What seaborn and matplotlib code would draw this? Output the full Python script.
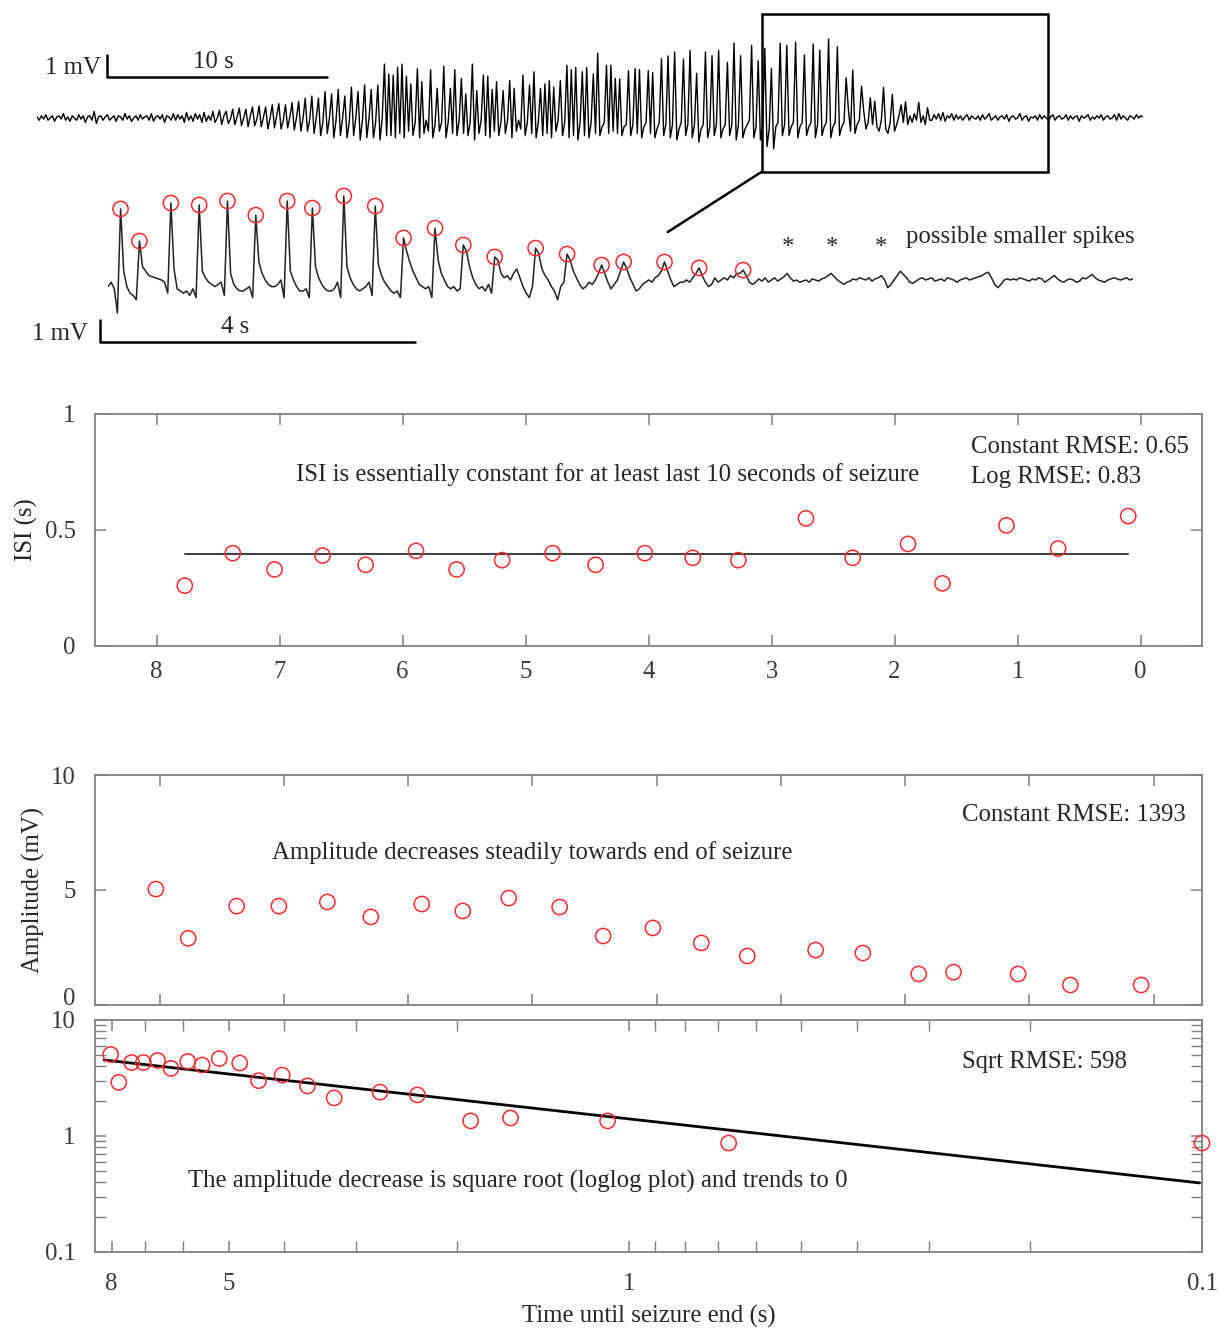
import numpy as np
import pandas as pd
import matplotlib
matplotlib.use('Agg')
import matplotlib.pyplot as plt
from matplotlib.patches import Rectangle, ConnectionPatch
from matplotlib.ticker import FixedLocator, FixedFormatter, NullFormatter
import seaborn as sns

# ---- full recording (mV), one sample every 0.1 s ----
top_dt = 0.1
top_quiet_pre = [0.05, -0.1, 0.1, -0.05, 0.15, -0.1, 0.0, 0.1, -0.15, 0.05,
                 0.1, -0.05, 0.2, -0.1, 0.05, -0.15, 0.1, 0.0, -0.1, 0.15,
                 -0.05, 0.1, -0.2, 0.05, 0.1, -0.1, 0.3, -0.25, 0.05, 0.1,
                 -0.1, 0.05, 0.15, -0.1, 0.0, 0.1, -0.15, 0.1, 0.05, -0.1,
                 0.2, -0.05, 0.1, -0.15, 0.0, 0.1, -0.1, 0.15, -0.05, 0.05,
                 0.1, -0.1, 0.2, -0.15, 0.05, 0.1, -0.05, 0.15, -0.2, 0.1,
                 0.05, -0.1, 0.2, -0.1, 0.15, -0.05, 0.1, -0.2, 0.25, -0.1,
                 0.1, -0.15, 0.2, -0.05, 0.15, -0.2, 0.25, -0.15, 0.1, -0.1]
top_onset = [0.3, -0.2, 0.0, 0.35, -0.3, 0.1, 0.3, -0.25, -0.05, 0.4,
             -0.3, 0.05, 0.45, -0.35, 0.0, 0.4, -0.4, 0.1, 0.5, -0.35,
             -0.05, 0.55, -0.4, 0.05, 0.5, -0.5, 0.0, 0.6, -0.45, 0.1,
             0.65, -0.5, -0.1, 0.6, -0.45, 0.05, 0.7, -0.55, 0.0, 0.75,
             -0.6, 0.0, 0.9, -0.6, -0.1, 1.0, -0.7, 0.0, 0.9, -0.8,
             -0.2, 1.2, -0.7, 0.0, 1.1, -0.9, -0.1, 1.3, -0.8, 0.0,
             1.0, -0.9, -0.2, 1.4, -0.8, 0.0, 1.2, -1.0, -0.1, 1.5,
             -0.9, 0.0, 1.3, -0.9, -0.2, 1.5, -1.0, 0.0, 2.45, -0.8]
top_seizure = [2.0, -0.8, 1.95, -0.9, 2.3, -0.7, 2.45, -0.9, 1.9, -0.6,
               1.55, -0.8, -0.2, 2.25, -0.9, 1.65, -0.7, -0.1, -0.6, 2.2,
               -0.9, -0.3, 1.35, -0.6, -0.2, 2.35, -0.9, -0.2, 1.35, -0.7,
               2.2, -0.8, -0.1, 1.8, -0.7, 1.1, -0.8, -0.2, 2.45, -1.0,
               1.25, -0.7, -0.1, 1.95, -0.8, 1.9, -0.9, 1.3, -0.6, 1.65,
               -0.8, -0.2, 1.25, -0.7, -0.1, 1.7, -0.9, 1.35, -0.6, -0.1,
               -0.5, 1.95, -0.8, -0.2, 1.5, -0.7, 2.1, -0.9, -0.2, 1.35,
               -0.8, 1.55, -0.7, 1.7, -0.9, 1.4, -0.6, -0.1, 1.7, -0.8,
               -0.2, 2.4, -0.9, 2.2, -0.8, 2.3, -1.0, -0.2, 2.1, -0.8,
               2.3, -0.9, -0.2, 2.0, -0.7,
               2.95, -0.8, -0.4, -0.2, 2.4, -0.7, 2.4, -0.6, 1.8, -0.7,
               1.77, -0.8, -0.4, -0.3, 2.15, -0.8, -0.3, 2.25, -0.7, 2.2,
               -0.9, -0.4, -0.2, 2.15, -0.7, 2.06, -0.9, -0.5, -0.2, 2.7,
               -0.8, -0.3, 2.82, -0.9, -0.3, 3.0, -1.0, -0.5, -0.2, 2.68,
               -0.8, -0.3, 3.07, -0.9, -0.3, 2.03, -1.1, -0.5, -0.3, 3.0,
               -0.9, -0.4, 2.83, -0.8, -0.3, 3.07, -0.9, -0.5, -0.3, 2.53,
               -0.8, -0.3, 3.4, -1.0, -0.3, 2.83, -0.9, -0.5, -0.3, -0.1,
               3.3, -0.9, -0.4, 2.6, -1.0, -0.4, 3.17, -1.3, -0.5, 2.25,
               -1.4, -0.4, -0.2, 3.4, -0.8, -0.3, 3.3, -0.8, -0.4, -0.2,
               3.45, -0.9, -0.4, -0.2, 2.86, -0.8, -0.4, -0.2, 3.36, -0.9,
               -0.3, 3.09, -0.8, -0.4, -0.2, 3.59, -0.9, -0.4, -0.2, 3.24,
               -0.8, -0.4, -0.2, 1.83, 0.4, -0.6, 2.18, -0.7, -0.3, -0.1,
               1.45, 0.3, -0.5, -0.2, 0.92, -0.3, 0.77, -0.4, -0.6, -0.1,
               1.39, -0.5, -0.7, -0.2, 1.08, -0.6, -0.3, 0.1, 0.6, -0.2,
               0.74, -0.3, 0.1, -0.2, 0.2, -0.1, 0.71, -0.2, 0.1, -0.3,
               0.47, -0.1]
top_quiet_post = [-0.1, 0.15, -0.05, 0.2, -0.1, 0.25, -0.15, 0.1, 0.0, 0.2,
                  -0.1, 0.15, -0.05, 0.1, -0.1, 0.05, 0.15, -0.1, 0.1, 0.0,
                  -0.05, 0.1, -0.1, 0.15, -0.05, 0.05, 0.2, -0.1, 0.0, 0.1,
                  -0.1, 0.05, 0.1, -0.05, 0.15, -0.15, 0.05, 0.1, -0.05, 0.0,
                  0.2, -0.1, 0.05, 0.1, -0.15, 0.05, 0.0, 0.1, -0.1, 0.15,
                  -0.05, 0.1, 0.0, -0.1, 0.05, 0.15, -0.1, 0.05, 0.1, -0.05,
                  0.0, 0.15, -0.1, 0.1, -0.05, 0.05, 0.1, -0.15, 0.1, 0.0,
                  0.05, 0.15, -0.1, 0.05, -0.05, 0.1, 0.0, 0.15, -0.1, 0.05,
                  0.1, -0.05, 0.0, 0.15, -0.1, 0.2, -0.05, 0.1, 0.0, -0.1,
                  0.1, 0.05, -0.05, 0.15, 0.0, 0.1, 0.05]

# ---- zoomed end of the seizure (mV), one sample every 0.04 s ----
zoom_dt = 0.04
zoom_start = 32.95      # s on the full recording where the zoom begins
zoom_seizure = [-0.3, -0.1, -0.4, -1.5, 3.23, 0.4, -0.3, -0.6, -0.7, -0.9,
                1.77, 0.6, 0.4, 0.2, 0.15, 0.1, 0.05, 0.0, -0.1, -0.6,
                3.5, 0.5, -0.4, -0.5, -0.6, -0.5, -0.7, -0.4, -0.8, 3.41,
                0.4, 0.1, -0.1, -0.2, -0.3, -0.2, -0.1, -0.7, 3.59, 0.3,
                -0.2, -0.4, -0.5, -0.5, -0.4, -0.3, -0.8, 2.95, 0.8, 0.3,
                0.0, -0.2, -0.3, -0.3, -0.2, 0.0, -0.8, 3.59, 0.4, 0.0,
                -0.3, -0.5, -0.5, -0.4, -0.8, 3.27, 0.6, 0.1, -0.2, -0.4,
                -0.5, -0.5, -0.4, -0.1, -0.8, 3.82, 0.6, 0.1, -0.2, -0.4,
                -0.5, -0.4, -0.3, -0.1, -0.7, 3.36, 0.7, 0.2, -0.1, -0.3,
                -0.5, -0.6, -0.5, -0.8, 1.91, 1.3, 0.8, 0.4, 0.1, -0.2,
                -0.3, -0.4, -0.3, -0.8, 2.36, 0.9, 0.3, 0.0, -0.3, -0.4,
                -0.3, -0.5, -0.4, 1.59, 1.3, 0.6, 0.1, -0.2, -0.4, -0.3,
                -0.5, -0.2, -0.6, 1.05, 0.9, 0.3, 0.1, 0.2, 0.0, 0.3,
                0.5, 0.1, -0.3, -0.6, -0.8, -0.3, 1.45, 1.2, 0.5, 0.2,
                0.0, -0.3, -0.5, -0.9, -0.3, -0.1, 1.18, 0.9, 0.4, 0.1,
                -0.2, -0.4, -0.3, -0.1, -0.2, 0.0, 0.3, 0.68, 0.3, -0.1,
                -0.4, -0.2, 0.0, 0.4, 0.82, 0.5, 0.1, -0.2, -0.5, -0.4,
                -0.2, -0.1, 0.0, -0.1, 0.1, 0.2, 0.4, 0.82, 0.4, 0.0,
                -0.3, -0.2, -0.1, -0.1, 0.0, -0.1, 0.1, 0.3, 0.55, 0.2,
                -0.1, -0.3, -0.2, 0.1, -0.1, 0.0, 0.1, 0.0, 0.2, 0.1,
                0.3, 0.3, 0.45, 0.2, -0.1, -0.2]
zoom_after = [-0.1, 0.05, -0.05, 0.1, -0.1, 0.0, 0.1, -0.05, 0.05, 0.15,
              0.3, 0.1, -0.05, 0.0, -0.1, -0.05, 0.0, -0.1, 0.05, 0.0,
              -0.05, 0.05, 0.1, 0.2, 0.3, 0.15, 0.0, -0.1, -0.2, -0.1,
              -0.05, 0.05, 0.0, 0.1, 0.05, 0.0, 0.1, -0.05, 0.05, 0.1,
              0.2, 0.0, -0.35, -0.2, 0.0, 0.2, 0.4, 0.25, 0.1, -0.1,
              -0.15, -0.05, 0.05, 0.1, 0.0, 0.05, 0.1, -0.05, 0.0, 0.05,
              -0.05, 0.1, 0.05, 0.0, -0.1, 0.0, 0.05, 0.1, 0.0, 0.05,
              0.1, 0.15, 0.2, 0.3, 0.35, 0.1, -0.2, -0.35, -0.2, 0.0,
              0.05, 0.0, 0.05, 0.0, 0.1, 0.05, 0.0, -0.05, 0.05, 0.0,
              0.1, 0.05, -0.1, 0.0, 0.1, 0.2, 0.05, -0.05, -0.1, 0.0,
              0.05, 0.0, -0.1, -0.05, 0.1, 0.05, 0.15, 0.25, 0.1, 0.0,
              -0.05, -0.1, 0.0, 0.05, 0.1, 0.05, 0.0, 0.05, 0.1, 0.0,
              0.05]
seizure_end = 8.18                    # s into the zoomed trace
possible_spikes = [8.65, 9.21, 9.83]  # s into the zoomed trace

# ---- spike measurements ----
amp_time = [8.03, 7.77, 7.38, 7.04, 6.65, 6.30, 5.89, 5.56, 5.19, 4.78, 4.43,
            4.03, 3.64, 3.27, 2.72, 2.34, 1.89, 1.61, 1.09, 0.67, 0.10]
amp_mv = [5.04, 2.90, 4.30, 4.30, 4.48, 3.83, 4.39, 4.09, 4.65, 4.26, 3.00,
          3.35, 2.70, 2.13, 2.39, 2.26, 1.35, 1.43, 1.35, 0.87, 0.87]
isi_s = [0.26, 0.40, 0.33, 0.39, 0.35, 0.41, 0.33, 0.37, 0.40, 0.35,
         0.40, 0.38, 0.37, 0.55, 0.38, 0.44, 0.27, 0.52, 0.42, 0.56]
isi_const = 0.397
fit_time = [8.24, 0.101]
fit_amp = [4.52, 0.394]

RED = '#ff2a2a'
GREY = '#808080'
FS = 17.8

sns.set_style('ticks')
plt.rcParams['font.family'] = ['Liberation Serif', 'DejaVu Serif']

W, H = 1219, 1331
fig = plt.figure(figsize=(W / 100, H / 100), dpi=100)


def px_axes(x0, y0, x1, y1):
    return fig.add_axes([x0 / W, 1 - y1 / H, (x1 - x0) / W, (y1 - y0) / H])


def style(ax, xpad=11):
    for sp in ax.spines.values():
        sp.set_color(GREY)
        sp.set_linewidth(1.3)
    ax.tick_params(which='both', direction='in', top=True, right=True,
                   colors=GREY, labelcolor='#3a3a3a', labelsize=FS)
    ax.tick_params(axis='x', which='both', pad=xpad)
    ax.tick_params(axis='y', which='both', pad=14)
    ax.tick_params(which='major', length=8, width=1.1)
    ax.tick_params(which='minor', length=5, width=1.0)


# ---------------- full trace ----------------
top_vals = top_quiet_pre + top_onset + top_seizure + top_quiet_post
top = pd.DataFrame({'t': np.arange(len(top_vals)) * top_dt, 'mv': top_vals})
ax_top = px_axes(37, 8, 1143, 228)
sns.lineplot(data=top, x='t', y='mv', ax=ax_top, color='black', lw=1.0,
             estimator=None)
ax_top.set_xlim(top['t'].iloc[0], top['t'].iloc[-1])
ax_top.set_ylim(-5, 5)
ax_top.axis('off')

zoom = pd.DataFrame({'mv': zoom_seizure + zoom_after})
zoom['t'] = np.arange(len(zoom)) * zoom_dt
zoom_len = zoom['t'].iloc[-1]

# box around the zoomed region
ax_top.add_patch(Rectangle((zoom_start, -2.45), zoom_len, 7.18, fill=False,
                           ec='black', lw=1.8, clip_on=False))
# scale bar 1 mV / 10 s
ax_top.plot([3.18, 3.18, 13.18], [2.86, 1.86, 1.86], color='black', lw=1.8,
            clip_on=False)
ax_top.text(2.9, 2.27, '1 mV', ha='right', va='center', fontsize=FS)
ax_top.text(8.0, 2.55, '10 s', ha='center', va='center', fontsize=FS)

# ---------------- zoomed trace ----------------
ax_z = px_axes(108, 159, 1133, 357)
sns.lineplot(data=zoom, x='t', y='mv', ax=ax_z, color='#222222', lw=1.1,
             estimator=None)
ax_z.set_xlim(0, zoom_len)
ax_z.set_ylim(-3.5, 5.5)
ax_z.axis('off')

# mark the detected spikes on the trace
spike_idx = []
for a in amp_time:
    i = int(np.round((seizure_end - a) / zoom_dt))
    lo, hi = max(i - 2, 0), i + 3
    spike_idx.append(lo + int(np.argmax(zoom['mv'].values[lo:hi])))
peaks = zoom.iloc[spike_idx]
sns.scatterplot(data=peaks, x='t', y='mv', ax=ax_z, marker='o', s=120,
                facecolors='none', edgecolor=RED, linewidth=1.1, clip_on=False,
                zorder=5)
ax_z.collections[-1].set_facecolor('none')

for t in possible_spikes:
    ax_z.text(t, 1.45, '*', ha='center', va='center', fontsize=FS)
ax_z.text(10.15, 1.95, 'possible smaller spikes', ha='left', va='center',
          fontsize=FS)

ax_z.plot([-0.1, -0.1, 3.9], [-1.82, -2.82, -2.82], color='black', lw=1.8,
          clip_on=False)
ax_z.text(-0.25, -2.45, '1 mV', ha='right', va='center', fontsize=FS)
ax_z.text(1.62, -2.62, '4 s', ha='center', va='bottom', fontsize=FS)

con = ConnectionPatch(xyA=(zoom_start, -2.45), coordsA=ax_top.transData,
                      xyB=(7.12, 2.18), coordsB=ax_z.transData,
                      color='black', lw=1.8)
fig.add_artist(con)

# ---------------- ISI panel ----------------
ax_isi = px_axes(95, 414, 1202, 646)
isi_time = amp_time[1:]
sns.lineplot(x=[isi_time[0], isi_time[-1]], y=[isi_const, isi_const],
             ax=ax_isi, color='#3c3c3c', lw=1.4)
sns.scatterplot(x=isi_time, y=isi_s, ax=ax_isi, marker='o', s=120,
                facecolors='none', edgecolor=RED, linewidth=1.1, zorder=5)
ax_isi.collections[-1].set_facecolor('none')
ax_isi.set_xlim(8.5, -0.5)
ax_isi.set_ylim(0, 1)
ax_isi.set_xticks(range(9))
ax_isi.set_yticks([0, 0.5, 1])
ax_isi.set_yticklabels(['0', '0.5', '1'])
style(ax_isi, xpad=11)
ax_isi.set_ylabel('ISI (s)', fontsize=FS, labelpad=5)
ax_isi.text(0.463, 0.741, 'ISI is essentially constant for at least last 10 seconds of seizure',
            transform=ax_isi.transAxes, ha='center', va='center', fontsize=FS)
ax_isi.text(0.791, 0.858, 'Constant RMSE: 0.65', transform=ax_isi.transAxes,
            ha='left', va='center', fontsize=FS)
ax_isi.text(0.791, 0.728, 'Log RMSE: 0.83', transform=ax_isi.transAxes,
            ha='left', va='center', fontsize=FS)

# ---------------- amplitude panel (linear) ----------------
ax_amp = px_axes(95, 775, 1202, 1005)
sns.scatterplot(x=amp_time, y=amp_mv, ax=ax_amp, marker='o', s=120,
                facecolors='none', edgecolor=RED, linewidth=1.1, zorder=5)
ax_amp.collections[-1].set_facecolor('none')
ax_amp.set_xlim(8.52, -0.39)
ax_amp.set_ylim(0, 10)
ax_amp.set_xticks(range(9))
ax_amp.set_xticklabels([])
ax_amp.set_yticks([0, 5, 10])
style(ax_amp)
# keep the bottom "0" clear of the "10" of the panel below
ax_amp.yaxis.get_major_ticks()[0].label1.set_va('baseline')
ax_amp.set_ylabel('Amplitude (mV)', fontsize=FS, labelpad=4)
ax_amp.text(0.783, 0.826, 'Constant RMSE: 1393', transform=ax_amp.transAxes,
            ha='left', va='center', fontsize=FS)
ax_amp.text(0.160, 0.665, 'Amplitude decreases steadily towards end of seizure',
            transform=ax_amp.transAxes, ha='left', va='center', fontsize=FS)

# ---------------- amplitude panel (loglog) ----------------
ax_log = px_axes(95, 1020, 1202, 1252)
ax_log.set_xscale('log')
ax_log.set_yscale('log')
sns.lineplot(x=fit_time, y=fit_amp, ax=ax_log, color='black', lw=2.0)
sns.scatterplot(x=amp_time, y=amp_mv, ax=ax_log, marker='o', s=120,
                facecolors='none', edgecolor=RED, linewidth=1.1, zorder=5,
                clip_on=False)
ax_log.collections[-1].set_facecolor('none')
ax_log.set_xlim(8.55, 0.1)
ax_log.set_ylim(0.1, 10)
ax_log.xaxis.set_major_locator(FixedLocator([8, 5, 1, 0.1]))
ax_log.xaxis.set_major_formatter(FixedFormatter(['8', '5', '1', '0.1']))
ax_log.xaxis.set_minor_locator(FixedLocator([7, 6, 4, 3, 2, 0.9, 0.8, 0.7,
                                             0.6, 0.5, 0.4, 0.3, 0.2]))
ax_log.xaxis.set_minor_formatter(NullFormatter())
ax_log.yaxis.set_major_locator(FixedLocator([0.1, 1, 10]))
ax_log.yaxis.set_major_formatter(FixedFormatter(['0.1', '1', '10']))
ax_log.yaxis.set_minor_locator(FixedLocator([0.2, 0.3, 0.4, 0.5, 0.6, 0.7,
                                             0.8, 0.9, 2, 3, 4, 5, 6, 7, 8, 9]))
ax_log.yaxis.set_minor_formatter(NullFormatter())
style(ax_log, xpad=15)
ax_log.tick_params(which='minor', length=8)
ax_log.set_xlabel('Time until seizure end (s)', fontsize=FS, labelpad=7)
ax_log.text(0.783, 0.819, 'Sqrt RMSE: 598', transform=ax_log.transAxes,
            ha='left', va='center', fontsize=FS)
ax_log.text(0.084, 0.306, 'The amplitude decrease is square root (loglog plot) and trends to 0',
            transform=ax_log.transAxes, ha='left', va='center', fontsize=FS)

fig.savefig('out.png', dpi=100)
